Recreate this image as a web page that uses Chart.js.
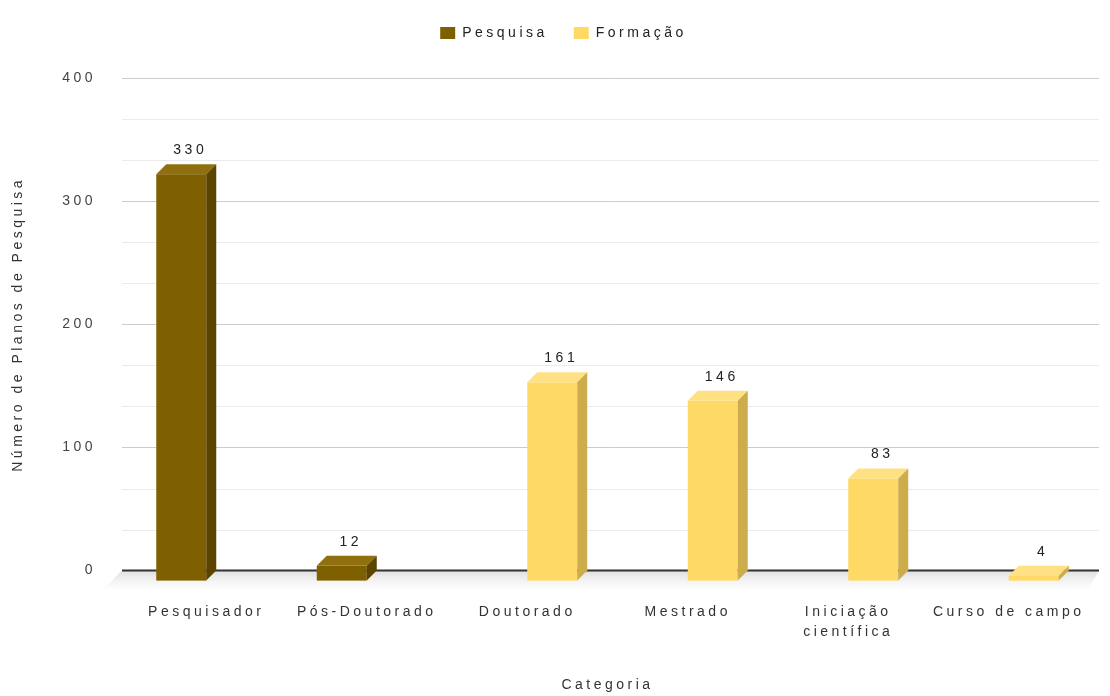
<!DOCTYPE html>
<html lang="pt">
<head>
<meta charset="utf-8">
<title>Planos de Pesquisa por Categoria</title>
<script src="https://cdn.jsdelivr.net/npm/chart.js@4.4.1/dist/chart.umd.min.js"></script>
<style>
  html, body { margin: 0; padding: 0; background: #fff; }
  #wrap { width: 1110px; height: 696px; }
</style>
</head>
<body>
<div id="wrap"><canvas id="myChart"></canvas></div>
<script>
// Planos de pesquisa por categoria
const categories = ['Pesquisador', 'Pós-Doutorado', 'Doutorado', 'Mestrado', ['Iniciação', 'científica'], 'Curso de campo'];
const pesquisaValues = [330, 12, null, null, null, null];
const formacaoValues = [null, null, 161, 146, 83, 4];
const yTickLabels = [0, 100, 200, 300, 400];

const FONT = '"Liberation Sans", Arial, sans-serif';
const DEPTH_X = 10;
const DEPTH_Y = 10;

// front / top / side colours of the boxes, one entry per dataset
const shades = [
    { front: '#7f6000', top: '#8f6f0e', side: '#5a4400' },
    { front: '#ffd966', top: '#ffe184', side: '#cdac4c' }
];

function isMajor(v) {
    return yTickLabels.some(t => Math.abs(t - v) < 0.01);
}

// wide letter spacing on all canvas text (reset whenever the canvas is resized)
const spacing = {
    id: 'spacing',
    beforeUpdate(chart) { chart.ctx.letterSpacing = '3.5px'; },
    beforeDraw(chart) { chart.ctx.letterSpacing = '3.5px'; }
};

// more room under the legend, and push it a bit to the right
const legendRoom = {
    id: 'legendRoom',
    beforeLayout(chart) {
        const legend = chart.legend;
        if (!legend || legend._roomAdded) return;
        const fit = legend.fit;
        legend.fit = function () {
            fit.call(this);
            this.height += 28;
        };
        legend._roomAdded = true;
    },
    afterLayout(chart) {
        chart.legend.left += 19;
        chart.legend.right += 19;
    }
};

// back wall grid, floor and 3d boxes
const bars3d = {
    id: 'bars3d',
    beforeDatasetsDraw(chart) {
        const { ctx, chartArea: area, scales: { y } } = chart;
        const left = area.left - 4;
        const right = area.right + DEPTH_X;
        const y0 = y.getPixelForValue(0);
        ctx.save();
        y.ticks.forEach(tick => {
            const py = Math.round(y.getPixelForValue(tick.value)) + 0.5;
            ctx.strokeStyle = isMajor(tick.value) ? '#cccccc' : '#ebebeb';
            ctx.lineWidth = 1;
            ctx.beginPath();
            ctx.moveTo(left, py);
            ctx.lineTo(right, py);
            ctx.stroke();
        });
        const grad = ctx.createLinearGradient(0, y0, 0, y0 + DEPTH_Y + 8);
        grad.addColorStop(0, '#dedede');
        grad.addColorStop(1, 'rgba(240,240,240,0.2)');
        ctx.fillStyle = grad;
        ctx.beginPath();
        ctx.moveTo(left, y0);
        ctx.lineTo(right, y0);
        ctx.lineTo(right - DEPTH_X, y0 + DEPTH_Y + 8);
        ctx.lineTo(left - DEPTH_X - 8, y0 + DEPTH_Y + 8);
        ctx.closePath();
        ctx.fill();
        ctx.strokeStyle = '#333333';
        ctx.lineWidth = 2;
        ctx.beginPath();
        ctx.moveTo(left, y0);
        ctx.lineTo(right, y0);
        ctx.stroke();
        ctx.restore();
    },
    beforeDatasetDraw() {
        return false;
    },
    afterDatasetsDraw(chart) {
        const ctx = chart.ctx;
        ctx.save();
        chart.data.datasets.forEach((ds, i) => {
            const meta = chart.getDatasetMeta(i);
            const c = shades[i];
            meta.data.forEach((bar, j) => {
                const v = ds.data[j];
                if (v === null || v === undefined) return;
                const { x, y, base, width } = bar.getProps(['x', 'y', 'base', 'width'], true);
                const l = x - width / 2;
                const r = x + width / 2;
                const t = y + DEPTH_Y;
                const b = base + DEPTH_Y;

                ctx.fillStyle = c.front;
                ctx.fillRect(l, t, r - l, b - t);

                ctx.fillStyle = c.top;
                ctx.beginPath();
                ctx.moveTo(l, t);
                ctx.lineTo(r, t);
                ctx.lineTo(r + DEPTH_X, t - DEPTH_Y);
                ctx.lineTo(l + DEPTH_X, t - DEPTH_Y);
                ctx.closePath();
                ctx.fill();

                ctx.fillStyle = c.side;
                ctx.beginPath();
                ctx.moveTo(r, t);
                ctx.lineTo(r + DEPTH_X, t - DEPTH_Y);
                ctx.lineTo(r + DEPTH_X, b - DEPTH_Y);
                ctx.lineTo(r, b);
                ctx.closePath();
                ctx.fill();

                ctx.fillStyle = '#222222';
                ctx.font = '14px ' + FONT;
                ctx.textAlign = 'center';
                ctx.textBaseline = 'middle';
                ctx.fillText(String(v), x + 9, y - 14);
            });
        });
        ctx.restore();
    }
};

Chart.defaults.font.family = FONT;
Chart.defaults.font.size = 14;
Chart.defaults.color = '#333';

const ctx = document.getElementById('myChart').getContext('2d');
const myChart = new Chart(ctx, {
    type: 'bar',
    data: {
        labels: categories,
        datasets: [
            { label: 'Pesquisa', data: pesquisaValues, backgroundColor: shades[0].front },
            { label: 'Formação', data: formacaoValues, backgroundColor: shades[1].front }
        ]
    },
    options: {
        responsive: true,
        maintainAspectRatio: false,
        animation: false,
        categoryPercentage: 0.623,
        barPercentage: 1,
        layout: { padding: { top: 0, left: 0, right: 21, bottom: 0 } },
        plugins: {
            legend: {
                position: 'top',
                labels: { boxWidth: 15, boxHeight: 12, padding: 26, color: '#222' }
            },
            tooltip: { enabled: false }
        },
        scales: {
            x: {
                grid: { display: false, drawTicks: false },
                border: { display: false },
                afterFit(scale) {
                    scale.paddingLeft = 0;
                    scale.paddingRight = 0;
                },
                ticks: {
                    color: '#333',
                    padding: 31,
                    maxRotation: 0,
                    autoSkip: false,
                    font: { size: 14, lineHeight: 1.45 }
                },
                title: {
                    display: true,
                    text: 'Categoria',
                    color: '#333',
                    padding: { top: 4, bottom: 2 }
                }
            },
            y: {
                min: 0,
                max: 400,
                grid: { display: false, drawTicks: false },
                border: { display: false },
                afterFit(scale) {
                    scale.width = 126;
                },
                ticks: {
                    stepSize: 100 / 3,
                    padding: 30,
                    color: '#444',
                    callback: v => isMajor(v) ? Math.round(v) : ''
                },
                title: {
                    display: true,
                    text: 'Número de Planos de Pesquisa',
                    color: '#333',
                    padding: { top: 10, bottom: 0 }
                }
            }
        }
    },
    plugins: [spacing, legendRoom, bars3d]
});
</script>
</body>
</html>
